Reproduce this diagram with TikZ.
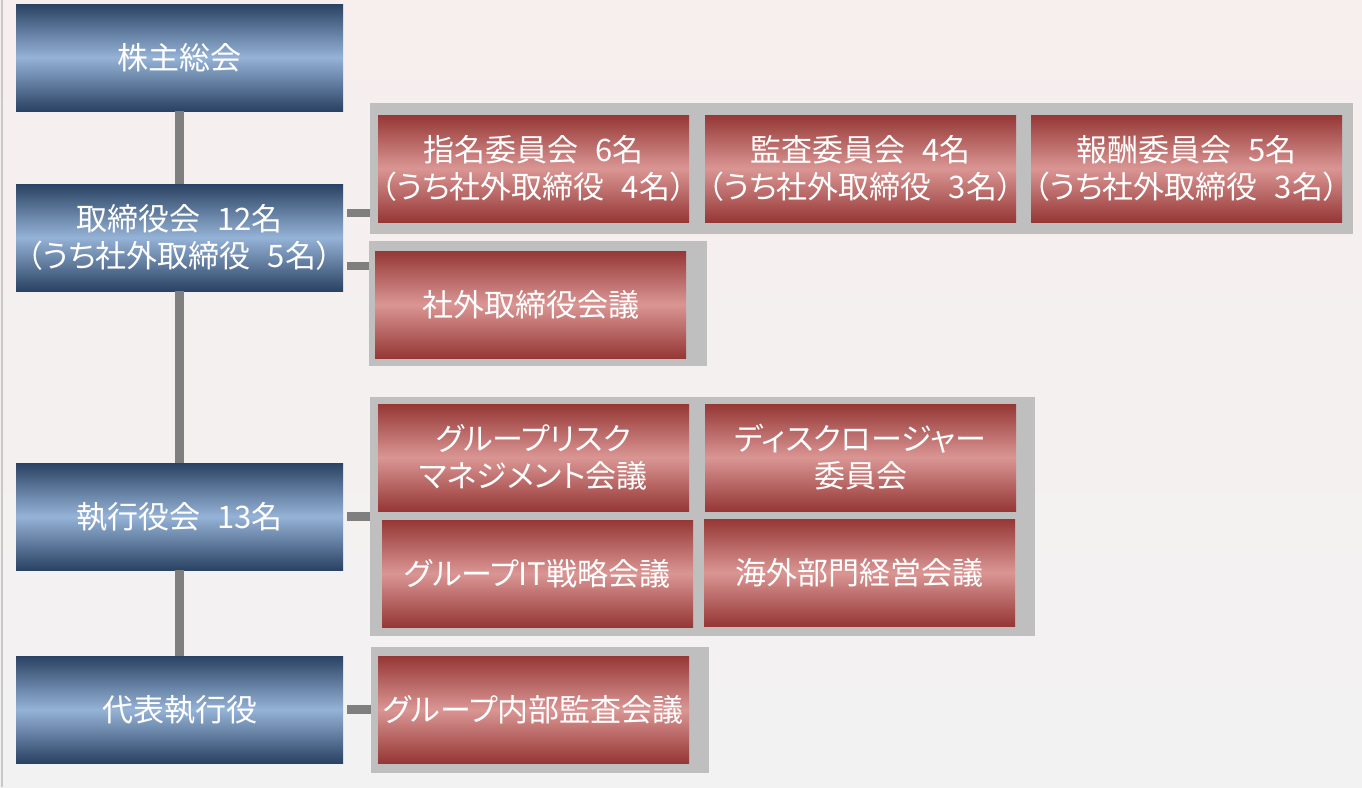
\documentclass[tikz,border=0pt]{standalone}
\usepackage{fontspec}
\setmainfont{Noto Sans CJK JP}[RawFeature=+palt]
\definecolor{bgtop}{HTML}{F7EEEE}
\definecolor{bgbot}{HTML}{F2F2F2}
\definecolor{edgegrey}{HTML}{C8C8C8}
\definecolor{navy}{HTML}{2A4263}
\definecolor{steel}{HTML}{95B3D7}
\definecolor{wine}{HTML}{953735}
\definecolor{rose}{HTML}{DA9694}
\definecolor{panelgrey}{HTML}{BFBFBF}
\definecolor{linkgrey}{HTML}{7F7F7F}
\newcommand{\namegap}{\hspace{.55em}}
\begin{document}
\begin{tikzpicture}[x=1pt, y=-1pt,
    every node/.style={inner sep=0pt, align=center, text=white, font=\fontsize{31}{37}\selectfont},
    head/.style={minimum width=327pt, minimum height=107pt, top color=navy, bottom color=navy, middle color=steel},
    comm/.style={minimum width=311pt, minimum height=107pt, top color=wine, bottom color=wine, middle color=rose},
    panel/.style 2 args={fill=panelgrey, minimum width=#1, minimum height=#2},
    link/.style={draw=linkgrey, line width=8.5pt}]
    \useasboundingbox (0,0) rectangle (1362,787);
    \fill[top color=bgtop, bottom color=bgbot] (0,0) rectangle (1362,787);
    \draw[edgegrey, line width=2pt] (1.5,0) -- (1.5,787);

    \node[head] (gm) at (179.5, 57.5) {株主総会};
    \node[head] (board) at (179.5, 237.5) {取締役会\namegap 12名\\（うち社外取締役\namegap 5名）};
    \node[head] (exec) at (179.5, 516.5) {執行役会\namegap 13名};
    \node[head] (ceo) at (179.5, 709.5) {代表執行役};

    \node[panel={983pt}{131pt}] (grp1) at (861.5, 168.5) {};
    \node[panel={338pt}{125pt}] (grp2) at (538, 303.5) {};
    \node[panel={665pt}{239pt}] (grp3) at (702.5, 516.5) {};
    \node[panel={338pt}{126pt}] (grp4) at (540, 709.5) {};

    \node[comm] (nom) at (533.5, 168.5) {指名委員会\namegap 6名\\（うち社外取締役\namegap 4名）};
    \node[comm] (aud) at (860.5, 168.5) {監査委員会\namegap 4名\\（うち社外取締役\namegap 3名）};
    \node[comm] (rem) at (1186.5, 168.5) {報酬委員会\namegap 5名\\（うち社外取締役\namegap 3名）};
    \node[comm] (oboard) at (530.5, 304.5) {社外取締役会議};
    \node[comm] (risk) at (533.5, 457.5) {グループリスク\\マネジメント会議};
    \node[comm] (disc) at (860.5, 457.5) {ディスクロージャー\\委員会};
    \node[comm] (itstr) at (537.5, 573.5) {グループIT戦略会議};
    \node[comm] (ovs) at (859.5, 572.5) {海外部門経営会議};
    \node[comm] (iaudit) at (533.5, 709.5) {グループ内部監査会議};

    \coordinate (b1) at ([yshift=24.5pt]board.east);
    \coordinate (b2) at ([yshift=-28.5pt]board.east);

    \draw[link] (gm) -- (board);
    \draw[link] (board) -- (exec);
    \draw[link] (exec) -- (ceo);
    \draw[link, shorten <=4pt] (b1) -- (b1 -| grp1.west);
    \draw[link, shorten <=4pt] (b2) -- (b2 -| grp2.west);
    \draw[link, shorten <=4pt] (exec) -- (grp3);
    \draw[link, shorten <=4pt] (ceo) -- (grp4);
\end{tikzpicture}
\end{document}
